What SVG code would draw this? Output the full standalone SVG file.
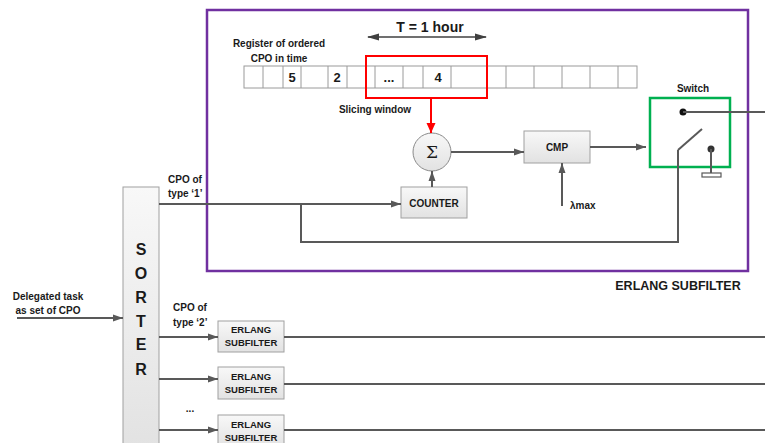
<svg xmlns="http://www.w3.org/2000/svg" width="765" height="443" viewBox="0 0 765 443">
<defs>
<linearGradient id="g" x1="0" y1="0" x2="0" y2="1">
<stop offset="0" stop-color="#f8f8f8"/><stop offset="1" stop-color="#e2e2e2"/>
</linearGradient>
<marker id="a" markerUnits="userSpaceOnUse" markerWidth="10" markerHeight="8" refX="10" refY="4" orient="auto"><path d="M0,0.5 L10,4 L0,7.5 Z" fill="#595959"/></marker>
<marker id="ar" markerUnits="userSpaceOnUse" markerWidth="10" markerHeight="10" refX="10" refY="5" orient="auto"><path d="M0,0.5 L10,5 L0,9.5 Z" fill="#ff0000"/></marker>
<marker id="ad" markerUnits="userSpaceOnUse" markerWidth="12" markerHeight="10" refX="11" refY="5" orient="auto-start-reverse"><path d="M0,1.5 L12,5 L0,8.5 Z" fill="#404040"/></marker>
</defs>
<style>
text{font-family:"Liberation Sans",Arial,sans-serif;font-weight:bold;fill:#1a1a1a}
.s{font-size:10px}
.c{text-anchor:middle}
.box{fill:url(#g);stroke:#a0a0a0;stroke-width:1}
.ln{fill:none;stroke:#595959;stroke-width:2}
.cell{fill:#fff;stroke:#9a9a9a;stroke-width:1}
</style>
<g id="erlang-subfilter-frame">
<rect x="207" y="10" width="541" height="261" fill="none" stroke="#7030a0" stroke-width="2.5"/>
<text x="678" y="290" class="c" font-size="12.5">ERLANG SUBFILTER</text>
</g>
<g id="register">
<rect x="244" y="66" width="393" height="22" class="cell"/>
<path d="M263,66V88M283,66V88M301,66V88M328,66V88M347,66V88M375,66V88M403,66V88M423,66V88M451,66V88M487,66V88M506,66V88M534,66V88M562,66V88M590,66V88M618,66V88" stroke="#9a9a9a" stroke-width="1"/>
<text x="292" y="82" class="c" font-size="13">5</text>
<text x="337" y="82" class="c" font-size="13">2</text>
<text x="389" y="82" class="c" font-size="13">...</text>
<text x="438" y="82" class="c" font-size="13">4</text>
<text x="279" y="47" class="c s">Register of ordered</text>
<text x="279" y="62" class="c s">CPO in time</text>
</g>
<g id="slicing-window">
<rect x="366" y="56" width="121" height="42" fill="none" stroke="#ff0000" stroke-width="2"/>
<text x="375" y="113" class="c s">Slicing window</text>
</g>
<g id="period">
<text x="430" y="32" class="c" font-size="14">T = 1 hour</text>
</g>
<g id="sum">
<circle cx="432" cy="152" r="19" fill="url(#g)" stroke="#8a8a8a" stroke-width="1"/>
<text x="432" y="158" class="c" font-size="17" style="font-family:'DejaVu Serif',serif;font-weight:normal">Σ</text>
</g>
<g id="counter">
<rect x="401" y="187" width="66" height="31" class="box"/>
<text x="434" y="207" class="c s">COUNTER</text>
</g>
<g id="cmp">
<rect x="524" y="131" width="66" height="32" class="box"/>
<text x="557" y="151" class="c s">CMP</text>
</g>
<g id="lambda">
<text x="570" y="209" class="s">λmax</text>
</g>
<g id="switch">
<rect x="650" y="98" width="80" height="69" fill="none" stroke="#00b050" stroke-width="2.5"/>
<text x="693" y="92" class="c s">Switch</text>
<circle cx="683" cy="112" r="3.5" fill="#111"/>
<circle cx="711" cy="149" r="3.5" fill="#333"/>
<path d="M678,150 L702,129" class="ln"/>
<path d="M711,149 V174" class="ln"/>
<rect x="702" y="173" width="19" height="4" fill="#fff" stroke="#595959" stroke-width="1.2"/>
</g>
<g id="sorter">
<rect x="123" y="187" width="36" height="262" class="box"/>
<text x="141" y="255" class="c" font-size="16">S</text>
<text x="141" y="279" class="c" font-size="16">O</text>
<text x="141" y="303" class="c" font-size="16">R</text>
<text x="141" y="327" class="c" font-size="16">T</text>
<text x="141" y="350" class="c" font-size="16">E</text>
<text x="141" y="375" class="c" font-size="16">R</text>
</g>
<g id="input-label">
<text x="48" y="300" class="c s">Delegated task</text>
<text x="48" y="314" class="c s">as set of CPO</text>
</g>
<g id="type1-label">
<text x="168" y="183" class="s">CPO of</text>
<text x="168" y="197" class="s">type ‘1’</text>
</g>
<g id="type2-label">
<text x="173" y="311" class="s">CPO of</text>
<text x="173" y="326" class="s">type ‘2’</text>
</g>
<g id="dots"><text x="190" y="412" class="c s">...</text></g>
<g id="subfilter-1">
<rect x="218" y="321" width="66" height="31" class="box"/>
<text x="251" y="333" class="c" font-size="9.5">ERLANG</text>
<text x="251" y="346" class="c" font-size="9.5">SUBFILTER</text>
</g>
<g id="subfilter-2">
<rect x="218" y="367" width="66" height="32" class="box"/>
<text x="251" y="380" class="c" font-size="9.5">ERLANG</text>
<text x="251" y="393" class="c" font-size="9.5">SUBFILTER</text>
</g>
<g id="subfilter-3">
<rect x="218" y="415" width="66" height="32" class="box"/>
<text x="251" y="428" class="c" font-size="9.5">ERLANG</text>
<text x="251" y="441" class="c" font-size="9.5">SUBFILTER</text>
</g>
<g id="connectors">
<path d="M368,37 H486" stroke="#404040" stroke-width="1.5" marker-start="url(#ad)" marker-end="url(#ad)"/>
<path d="M431,98 V133" fill="none" stroke="#ff0000" stroke-width="2" marker-end="url(#ar)"/>
<path d="M432,187 V171" class="ln" marker-end="url(#a)"/>
<path d="M451,152 H524" class="ln" marker-end="url(#a)"/>
<path d="M590,147 H646" class="ln" marker-end="url(#a)"/>
<path d="M562,206 V163" class="ln" marker-end="url(#a)"/>
<path d="M683,112 H765" class="ln"/>
<path d="M159,204 H401" class="ln" marker-end="url(#a)"/>
<path d="M301,204 V242 H678 V150" class="ln"/>
<path d="M17,318 H123" class="ln" marker-end="url(#a)"/>
<path d="M159,337 H218" class="ln" marker-end="url(#a)"/>
<path d="M159,379 H218" class="ln" marker-end="url(#a)"/>
<path d="M159,430 H218" class="ln" marker-end="url(#a)"/>
<path d="M284,337 H765" class="ln"/>
<path d="M284,384 H765" class="ln"/>
<path d="M284,430 H765" class="ln"/>
</g>
</svg>
